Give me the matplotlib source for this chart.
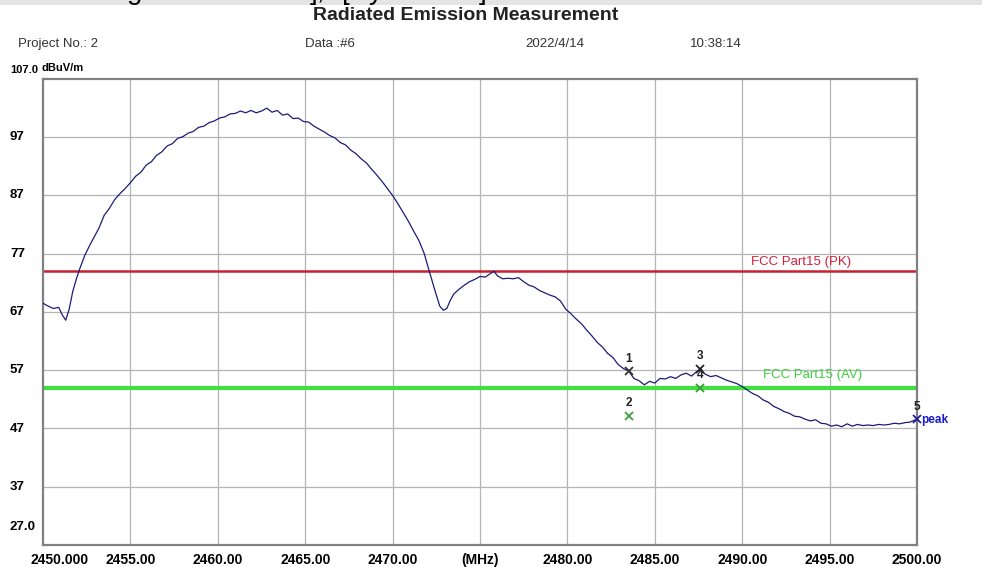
import matplotlib
matplotlib.use("Agg")
import matplotlib.pyplot as plt
from matplotlib.patches import Rectangle

freq_mhz = [
    2450.0, 2450.3, 2450.6, 2450.9, 2451.1, 2451.3, 2451.5, 2451.7, 2451.9, 2452.1,
    2452.4, 2452.7, 2453.0, 2453.2, 2453.5, 2453.8, 2454.1, 2454.4, 2454.7, 2455.0,
    2455.3, 2455.6, 2455.9, 2456.2, 2456.5, 2456.8, 2457.1, 2457.4, 2457.7, 2458.0,
    2458.3, 2458.6, 2458.9, 2459.2, 2459.5, 2459.8, 2460.1, 2460.4, 2460.7, 2461.0,
    2461.3, 2461.6, 2461.9, 2462.2, 2462.5, 2462.8, 2463.1, 2463.4, 2463.7, 2464.0,
    2464.3, 2464.6, 2464.9, 2465.2, 2465.5, 2465.8, 2466.1, 2466.4, 2466.7, 2467.0,
    2467.3, 2467.6, 2467.9, 2468.2, 2468.5, 2468.8, 2469.1, 2469.4, 2469.7, 2470.0,
    2470.3, 2470.6, 2470.9, 2471.2, 2471.5, 2471.8, 2472.1, 2472.4, 2472.7, 2472.9,
    2473.1, 2473.3, 2473.5, 2473.8, 2474.1, 2474.4, 2474.7, 2475.0, 2475.3, 2475.6,
    2475.8, 2476.0, 2476.3, 2476.6, 2476.9, 2477.2, 2477.5, 2477.8, 2478.1, 2478.4,
    2478.7, 2479.0, 2479.3, 2479.6, 2479.9, 2480.2, 2480.5, 2480.8, 2481.1, 2481.4,
    2481.7, 2482.0, 2482.3, 2482.6, 2482.9, 2483.2, 2483.5, 2483.8, 2484.1, 2484.4,
    2484.7, 2485.0, 2485.3, 2485.6, 2485.9, 2486.2, 2486.5, 2486.8, 2487.1, 2487.4,
    2487.6, 2487.9, 2488.2, 2488.5, 2488.8, 2489.1, 2489.4, 2489.7, 2490.0, 2490.3,
    2490.6, 2490.9, 2491.2, 2491.5, 2491.8, 2492.1, 2492.4, 2492.7, 2493.0, 2493.3,
    2493.6, 2493.9, 2494.2, 2494.5, 2494.8, 2495.1, 2495.4, 2495.7, 2496.0, 2496.3,
    2496.6, 2496.9, 2497.2, 2497.5, 2497.8, 2498.1, 2498.4, 2498.7, 2499.0, 2499.3,
    2499.6, 2500.0,
]
level_dbuv = [
    68.5, 68.0, 67.6, 67.8, 66.5, 65.6, 67.5, 70.5, 72.6, 74.4,
    76.8, 78.6, 80.3, 81.4, 83.6, 84.8, 86.3, 87.3, 88.2, 89.2,
    90.3, 91.0, 92.2, 92.8, 93.9, 94.5, 95.5, 95.9, 96.8, 97.1,
    97.7, 98.0, 98.7, 98.9, 99.5, 99.8, 100.3, 100.5, 101.0, 101.1,
    101.5, 101.2, 101.6, 101.2, 101.5, 102.0, 101.3, 101.6, 100.8, 101.0,
    100.2, 100.3, 99.7, 99.6, 98.9, 98.4, 97.9, 97.3, 96.9, 96.1,
    95.7, 94.8, 94.2, 93.3, 92.6, 91.5, 90.5, 89.4, 88.2, 87.0,
    85.6, 84.1, 82.6, 80.9, 79.3, 77.1, 74.0, 70.9, 68.0, 67.3,
    67.6, 69.0, 70.1, 70.9, 71.6, 72.2, 72.6, 73.1, 73.0, 73.6,
    74.0, 73.2, 72.7, 72.8, 72.7, 72.9, 72.2, 71.6, 71.3, 70.7,
    70.3, 69.9, 69.6, 68.9, 67.5, 66.7, 65.8, 65.0, 63.9, 62.9,
    61.8, 61.0, 59.9, 59.2, 58.0, 57.3, 56.9, 55.6, 55.2, 54.5,
    55.1, 54.8, 55.6, 55.5, 55.9, 55.6, 56.2, 56.5, 56.0, 56.8,
    57.0, 56.3, 55.9, 56.1, 55.7, 55.3, 55.0, 54.7, 54.2, 53.6,
    53.0, 52.6, 51.9, 51.5, 50.8, 50.4, 49.9, 49.6, 49.1, 49.0,
    48.6, 48.3, 48.5, 47.9, 47.8, 47.4, 47.6, 47.3, 47.8, 47.4,
    47.7, 47.5, 47.6, 47.5, 47.7, 47.6, 47.7, 47.9, 47.8, 48.0,
    48.1, 48.6,
]

# limit lines
limit_pk = 74.0
limit_av = 54.0

# marked points
marker_no = ["1", "2", "3", "4", "5"]
marker_freq = [2483.5, 2483.5, 2487.6, 2487.6, 2500.0]
marker_level = [56.9, 49.2, 57.3, 54.0, 48.6]
marker_color = ["#333333", "#3aa03a", "#222222", "#3aa03a", "#20209a"]

y_ticks = [37, 47, 57, 67, 77, 87, 97]
x_ticks = [2455, 2460, 2465, 2470, 2480, 2485, 2490, 2495, 2500]
x_tick_labels = ["2455.00", "2460.00", "2465.00", "2470.00", "2480.00",
                 "2485.00", "2490.00", "2495.00", "2500.00"]

plt.rcParams['font.family'] = ['Liberation Sans', 'DejaVu Sans']

fig = plt.figure(figsize=(9.82, 5.67), dpi=100)
ax = fig.add_axes([43/982, 1-545/567, (917-43)/982, (545-79)/567])

# grid
for xv in [2455, 2460, 2465, 2470, 2475, 2480, 2485, 2490, 2495]:
    ax.axvline(xv, color='#b4b4b4', lw=0.9, zorder=1)
for yv in y_ticks:
    ax.axhline(yv, color='#b4b4b4', lw=0.9, zorder=1)

ax.axhline(limit_pk, color='#c8202e', lw=1.8, zorder=2)
ax.axhline(limit_av, color='#3fe03f', lw=3.0, zorder=2)
ax.plot(freq_mhz, level_dbuv, color='#1c1c7a', lw=0.9, zorder=3)

for no, f, v, c in zip(marker_no, marker_freq, marker_level, marker_color):
    ax.plot([f], [v], marker='x', ms=6, mew=1.3, color=c, ls='none',
            zorder=4, clip_on=False)
    ax.text(f, v + 2.1, no, color='#222222', fontsize=8.5, ha='center',
            va='center', fontweight='bold', zorder=4)
ax.text(2500.25, 48.4, "peak", color='#1a1ad0', fontsize=8.5, fontweight='bold',
        ha='left', va='center', clip_on=False)

ax.text(2490.5, limit_pk + 1.5, "FCC Part15 (PK)", color='#d0203a', fontsize=9.5,
        ha='left', va='center')
ax.text(2491.2, limit_av + 2.1, "FCC Part15 (AV)", color='#3fd03f', fontsize=9.5,
        ha='left', va='center')

ax.set_xlim(2450, 2500)
ax.set_ylim(27, 107)
ax.set_xticks([])
ax.set_yticks([])
for s in ax.spines.values():
    s.set_color('#808080')
    s.set_linewidth(1.6)

# tick labels as plain text, the way the report software prints them
for xv, lab in zip(x_ticks, x_tick_labels):
    ax.text(xv, -0.018, lab, transform=ax.get_xaxis_transform(), ha='center',
            va='top', fontsize=10, fontweight='bold')
ax.text(2449.3, -0.018, "2450.000", transform=ax.get_xaxis_transform(), ha='left',
        va='top', fontsize=10, fontweight='bold')
ax.text(2475, -0.018, "(MHz)", transform=ax.get_xaxis_transform(), ha='center',
        va='top', fontsize=10, fontweight='bold')
for yv in y_ticks:
    fig.text(10/982, ax.transData.transform((0, yv))[1] / 567, str(yv),
             ha='left', va='center', fontsize=9.5, fontweight='bold')
fig.text(10/982, 1-527/567, "27.0", ha='left', va='center', fontsize=9.5, fontweight='bold')
fig.text(10/982, 1-70/567, "107.0", ha='left', va='center', fontsize=8, fontweight='bold')
fig.text(42/982, 1-68/567, "dBuV/m", ha='left', va='center', fontsize=8, fontweight='bold')

# header
fig.text(466/982, 1-15/567, "Radiated Emission Measurement", ha='center', va='center',
         fontsize=14, fontweight='bold', color='#222222')
fig.text(18/982, 1-44/567, "Project No.: 2", ha='left', va='center', fontsize=9.5, color='#333333')
fig.text(305/982, 1-44/567, "Data :#6", ha='left', va='center', fontsize=9.5, color='#333333')
fig.text(525/982, 1-44/567, "2022/4/14", ha='left', va='center', fontsize=9.5, color='#333333')
fig.text(690/982, 1-44/567, "10:38:14", ha='left', va='center', fontsize=9.5, color='#333333')

# cropped caption strip at the very top (only the glyph tails show)
fig.patches.append(Rectangle((0, 1-5/567), 1, 5/567, transform=fig.transFigure,
                             facecolor='#e4e4e4', edgecolor='none', zorder=0))
for ch, xp in [("g", 135), ("],", 318), ("[", 346), ("y", 376), ("]", 483)]:
    fig.text(xp/982, 1+1/567, ch, ha='center', va='baseline', fontsize=20,
             color='black')

fig.savefig("out.png", dpi=100)
